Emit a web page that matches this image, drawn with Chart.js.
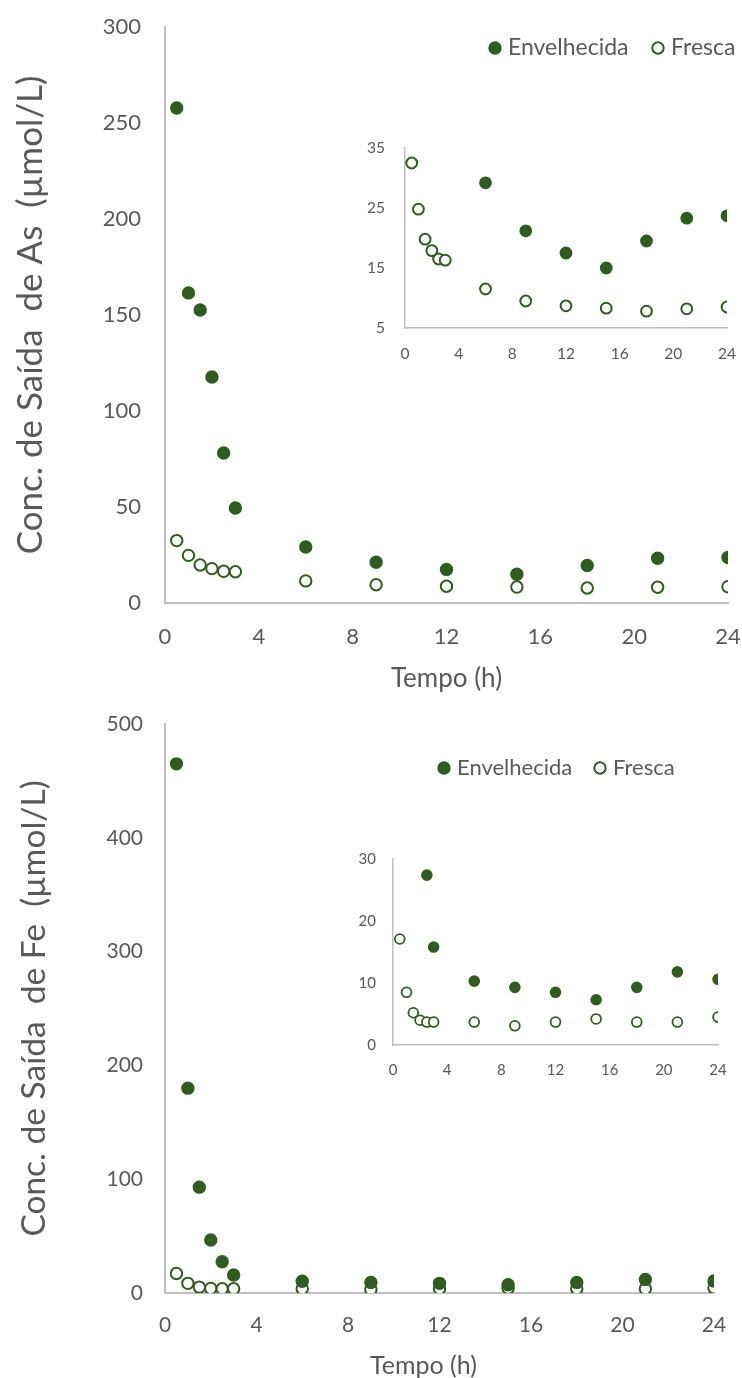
<!DOCTYPE html>
<html>
<head>
<meta charset="utf-8">
<script src="https://cdn.jsdelivr.net/npm/chart.js@4"></script>
<style>
  body { margin: 0; background: #fff; }
  #quadro { position: relative; width: 742px; height: 1378px; overflow: hidden; }
  #quadro canvas { position: absolute; }
</style>
</head>
<body>
<div id="quadro">
  <canvas id="graficaAs" width="742" height="700" style="left:0;top:0"></canvas>
  <canvas id="insetAs" width="402" height="250" style="left:340px;top:120px"></canvas>
  <canvas id="graficaFe" width="742" height="681" style="left:0;top:700px"></canvas>
  <canvas id="insetFe" width="412" height="260" style="left:330px;top:830px"></canvas>
</div>
<script>
// tempo de coleta (h)
const tempo = [0.5, 1, 1.5, 2, 2.5, 3, 6, 9, 12, 15, 18, 21, 24];

// concentração de saída de As (µmol/L)
const asEnvelhecida = [257.8, 161.5, 152.6, 117.7, 78.1, 49.5, 29.2, 21.2, 17.5, 15.0, 19.5, 23.3, 23.7];
const asFresca = [32.5, 24.8, 19.8, 17.9, 16.5, 16.3, 11.5, 9.5, 8.7, 8.3, 7.8, 8.2, 8.5];

// concentração de saída de Fe (µmol/L)
const feEnvelhecida = [465, 180, 93, 46.6, 27.4, 15.8, 10.3, 9.3, 8.5, 7.3, 9.3, 11.8, 10.6];
const feFresca = [17.1, 8.5, 5.2, 4.0, 3.7, 3.7, 3.7, 3.1, 3.7, 4.2, 3.7, 3.7, 4.5];

// ticks
const ticksTempo = [0, 4, 8, 12, 16, 20, 24];
const ticksAsY = [0, 50, 100, 150, 200, 250, 300];
const ticksAsInsetY = [5, 15, 25, 35];
const ticksFeY = [0, 100, 200, 300, 400, 500];
const ticksFeInsetY = [0, 10, 20, 30];

const verde = "#2e5d1f";
const cinza = "#595959";
const eixo = "#bfbfbf";

// legenda desenhada em posição fixa (fica sobre a área do gráfico)
const legendaFixa = {
  id: "legendaFixa",
  afterDraw(chart, args, opts) {
    if (!opts.x) return;
    const ctx = chart.ctx;
    ctx.save();
    ctx.font = opts.size + "px Lato";
    ctx.textBaseline = "middle";
    chart.data.datasets.forEach((ds, i) => {
      const cx = opts.x[i];
      ctx.beginPath();
      ctx.arc(cx, opts.y, opts.r, 0, Math.PI * 2);
      ctx.fillStyle = ds.pointBackgroundColor;
      ctx.fill();
      ctx.lineWidth = ds.pointBorderWidth;
      ctx.strokeStyle = ds.pointBorderColor;
      ctx.stroke();
      ctx.fillStyle = cinza;
      ctx.fillText(ds.label, cx + opts.gap, opts.y);
    });
    ctx.restore();
  }
};

function pontos(valores, max) {
  return tempo
    .map((t, i) => ({ x: t, y: valores[i] }))
    .filter(p => max === undefined || p.y <= max);
}

function series(envelhecida, fresca, raio, borda, max) {
  return [
    {
      label: "Envelhecida",
      data: pontos(envelhecida, max),
      pointRadius: raio,
      pointBorderWidth: borda,
      pointBackgroundColor: verde,
      pointBorderColor: verde,
      showLine: false
    },
    {
      label: "Fresca",
      data: pontos(fresca, max),
      pointRadius: raio,
      pointBorderWidth: borda,
      pointBackgroundColor: "#ffffff",
      pointBorderColor: verde,
      showLine: false
    }
  ];
}

// a margem da área do gráfico fica só com layout.padding
function eixoX(o) {
  return {
    type: "linear",
    min: 0,
    max: 24,
    afterBuildTicks: s => { s.ticks = ticksTempo.map(v => ({ value: v })); },
    afterFit: s => { s.height = o.altura; s.paddingLeft = 0; s.paddingRight = 0; },
    grid: { display: false, drawTicks: false },
    border: { color: eixo, width: o.linha },
    ticks: { color: cinza, font: { family: "Lato", size: o.fonte }, padding: o.pad, maxRotation: 0, autoSkip: false },
    title: o.titulo
      ? { display: true, text: o.titulo, color: cinza, font: { family: "Lato", size: o.fonteTitulo }, padding: { top: 0, bottom: o.padTitulo } }
      : { display: false }
  };
}

function eixoY(o) {
  return {
    type: "linear",
    min: o.ticks[0],
    max: o.ticks[o.ticks.length - 1],
    afterBuildTicks: s => { s.ticks = o.ticks.map(v => ({ value: v })); },
    afterFit: s => { s.width = o.largura; s.paddingTop = 0; s.paddingBottom = 0; },
    grid: { display: false, drawTicks: false },
    border: { color: eixo, width: o.linha },
    ticks: { color: cinza, font: { family: "Lato", size: o.fonte }, padding: o.pad },
    title: o.titulo
      ? { display: true, text: o.titulo, color: cinza, font: { family: "Lato", size: o.fonteTitulo }, padding: { top: o.padTitulo, bottom: 0 } }
      : { display: false }
  };
}

function opcoesBase(padding) {
  return {
    responsive: false,
    animation: false,
    layout: { padding: padding },
    plugins: { legend: { display: false }, tooltip: { enabled: false } }
  };
}

// ---- As: gráfico principal ----
const opAs = opcoesBase({ top: 27, right: 14, bottom: 0, left: 0 });
opAs.plugins.legendaFixa = { x: [495, 658], y: 48, r: 5.7, gap: 13, size: 23 };
opAs.scales = {
  x: eixoX({ altura: 97, linha: 2, fonte: 22, pad: 21, titulo: "Tempo (h)", fonteTitulo: 26, padTitulo: 6 }),
  y: eixoY({ ticks: ticksAsY, largura: 165, linha: 2, fonte: 22, pad: 24, titulo: "Conc. de Saída  de As  (µmol/L)", fonteTitulo: 35, padTitulo: 10 })
};
new Chart(document.getElementById("graficaAs"), {
  type: "scatter",
  data: { datasets: series(asEnvelhecida, asFresca, 5.7, 2) },
  options: opAs,
  plugins: [legendaFixa]
});

// ---- As: detalhe ----
const opAsInset = opcoesBase({ top: 28, right: 15, bottom: 0, left: 0 });
opAsInset.scales = {
  x: eixoX({ altura: 42, linha: 1.5, fonte: 15.5, pad: 17 }),
  y: eixoY({ ticks: ticksAsInsetY, largura: 65, linha: 1.5, fonte: 15.5, pad: 20 })
};
new Chart(document.getElementById("insetAs"), {
  type: "scatter",
  data: { datasets: series(asEnvelhecida, asFresca, 5.4, 2, 35) },
  options: opAsInset
});

// ---- Fe: gráfico principal ----
const opFe = opcoesBase({ top: 24, right: 28, bottom: 0, left: 0 });
opFe.plugins.legendaFixa = { x: [444, 600], y: 68, r: 5.7, gap: 13, size: 22 };
opFe.scales = {
  // título um pouco à esquerda do centro, como no original
  x: eixoX({ altura: 88, linha: 2, fonte: 21, pad: 20, titulo: "Tempo (h)     ", fonteTitulo: 25, padTitulo: 0 }),
  y: eixoY({ ticks: ticksFeY, largura: 165, linha: 2, fonte: 21, pad: 22, titulo: "Conc. de Saída  de Fe  (µmol/L)", fonteTitulo: 33.5, padTitulo: 14 })
};
new Chart(document.getElementById("graficaFe"), {
  type: "scatter",
  data: { datasets: series(feEnvelhecida, feFresca, 5.7, 2) },
  options: opFe,
  plugins: [legendaFixa]
});

// ---- Fe: detalhe ----
const opFeInset = opcoesBase({ top: 29, right: 24, bottom: 0, left: 0 });
opFeInset.scales = {
  x: eixoX({ altura: 45, linha: 1.5, fonte: 15, pad: 16 }),
  y: eixoY({ ticks: ticksFeInsetY, largura: 63, linha: 1.5, fonte: 15, pad: 17 })
};
new Chart(document.getElementById("insetFe"), {
  type: "scatter",
  data: { datasets: series(feEnvelhecida, feFresca, 4.9, 1.8, 30) },
  options: opFeInset
});
</script>
</body>
</html>
